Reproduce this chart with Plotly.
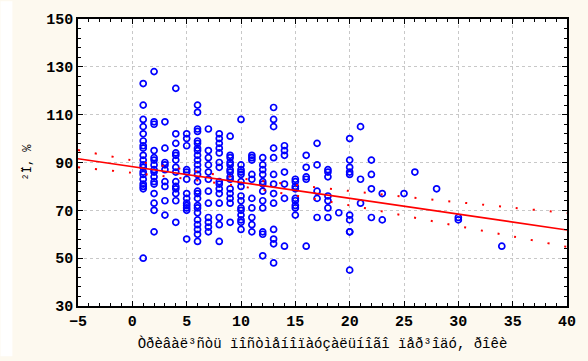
import plotly.graph_objects as go

# column x positions (years) and the IP values read for each column
col_years = [1, 2, 3, 4, 5, 6, 7, 8, 9, 10, 11, 12, 13, 14, 15, 16, 17, 18, 19, 20,
             21, 22, 23, 25, 26, 28, 30, 34]
col_values = [
    [123, 114, 108, 105, 102, 99, 97, 96, 93, 91, 89, 88, 86, 85, 83, 81, 80, 79, 50],
    [128, 107, 106, 95, 92, 91, 89, 87, 86, 84, 82, 81, 77, 73, 70, 61],
    [107, 96, 90, 89, 87, 82, 80, 74, 68],
    [121, 102, 98, 94, 93, 91, 88, 86, 82, 80, 79, 77, 74, 65],
    [102, 100, 97, 87, 86, 83, 77, 75, 73, 72, 71, 70, 58],
    [114, 111, 104, 103, 99, 98, 96, 95, 93, 91, 89, 87, 85, 82, 78, 77, 75, 72, 71, 69, 66, 64, 62, 60, 57],
    [104, 95, 92, 89, 86, 83, 78, 73, 67, 65, 63, 61],
    [102, 100, 98, 96, 94, 90, 88, 82, 81, 79, 77, 73, 67, 64, 57],
    [101, 93, 92, 90, 89, 87, 86, 84, 83, 79, 77, 75, 73, 65],
    [108, 89, 87, 86, 85, 82, 80, 76, 74, 71, 70, 68, 66, 65, 62],
    [93, 92, 91, 85, 83, 75, 71, 67, 64, 61],
    [92, 89, 87, 85, 82, 81, 78, 74, 71, 61, 60, 51],
    [113, 108, 105, 96, 92, 85, 81, 77, 73, 62, 58, 56, 48],
    [97, 95, 93, 86, 81, 75, 55],
    [83, 82, 80, 79, 75, 74, 72, 71, 68],
    [93, 88, 84, 83, 55],
    [98, 89, 78, 75, 67],
    [87, 86, 84, 76, 74, 71, 67],
    [69],
    [100, 91, 88, 86, 85, 68, 66, 61, 61, 45],
    [105, 83, 73],
    [91, 85, 79, 67],
    [77, 66],
    [77],
    [86],
    [79],
    [67, 66],
    [55],
]

# regression line and its confidence band
fit_x = [-5, 40]
fit_y = [91.6, 61.8]
band_x = [-5, 0, 5, 10, 15, 20, 25, 30, 35, 40]
band_upper = [95.2, 90.9, 86.9, 83.4, 80.6, 78.1, 75.7, 73.4, 71.1, 68.9]
band_lower = [88.0, 85.7, 83.1, 80.0, 76.2, 72.1, 67.8, 63.4, 59.1, 54.7]

x_ticks = [-5, 0, 5, 10, 15, 20, 25, 30, 35, 40]
y_ticks = [30, 50, 70, 90, 110, 130, 150]

x_title = "Òðèâàë³ñòü ïîñòìåíîïàóçàëüíîãî ïåð³îäó, ðîêè"
y_title = "²Ï, %"

pts_x = []
pts_y = []
for yr, vals in zip(col_years, col_values):
    for v in vals:
        pts_x.append(yr)
        pts_y.append(v)

fig = go.Figure()
fig.add_trace(go.Scatter(x=pts_x, y=pts_y, mode="markers",
                         marker=dict(symbol="circle-open", size=6, color="#0000ff",
                                     line=dict(width=1.7, color="#0000ff")),
                         showlegend=False))
for yb in (band_upper, band_lower):
    fig.add_trace(go.Scatter(x=band_x, y=yb, mode="lines", line_shape="spline",
                             line=dict(color="#ff0000", width=2, dash="2px,15px"),
                             showlegend=False))
fig.add_trace(go.Scatter(x=fit_x, y=fit_y, mode="lines",
                         line=dict(color="#ff0000", width=1.6), showlegend=False))

axis_font = dict(family="Liberation Mono", size=15, color="#000000", weight="bold")

fig.update_layout(
    width=588, height=361,
    margin=dict(l=78, r=18, t=18, b=51),
    paper_bgcolor="#fdf9ef",
    plot_bgcolor="#ffffff",
    xaxis=dict(range=[-5, 40], tickvals=x_ticks, ticktext=["\u2212" + str(-t) if t < 0 else str(t) for t in x_ticks],
               ticks="inside", ticklen=5, tickwidth=1.2, tickcolor="#000",
               minor=dict(dtick=1, tick0=0, ticks="inside", ticklen=3, tickcolor="#000", showgrid=False),
               showline=True, linecolor="#000", linewidth=1.5, mirror="ticks",
               showgrid=True, gridcolor="#c8c8c8", griddash="dot", gridwidth=1,
               zeroline=False, tickfont=axis_font,
               title=dict(text=x_title, font=dict(family="Liberation Mono", size=14, color="#000"), standoff=8)),
    yaxis=dict(range=[30, 150], tickvals=y_ticks,
               ticks="inside", ticklen=5, tickwidth=1.2, tickcolor="#000",
               minor=dict(dtick=4, tick0=30, ticks="inside", ticklen=3, tickcolor="#000", showgrid=False),
               showline=True, linecolor="#000", linewidth=1.5, mirror="ticks",
               showgrid=True, gridcolor="#c8c8c8", griddash="dot", gridwidth=1,
               zeroline=False, tickfont=axis_font,
               title=dict(text=y_title, font=dict(family="Liberation Mono", size=12, color="#000"), standoff=12)),
    shapes=[dict(type="rect", xref="paper", yref="paper", x0=-78/492, x1=-66/492, y0=-51/292, y1=1 + 18/292,
                 fillcolor="#ffffff", line=dict(width=0), layer="below")],
)

fig.write_html("out.html")
